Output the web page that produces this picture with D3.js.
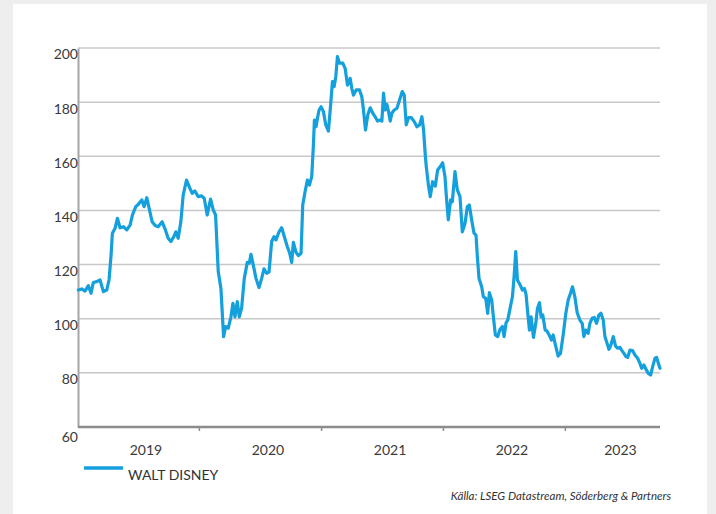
<!DOCTYPE html>
<html>
<head>
<meta charset="utf-8">
<script src="https://cdn.jsdelivr.net/npm/d3@7"></script>
<style>
  html, body { margin: 0; padding: 0; background: #eeeeee; }
  svg { display: block; }
</style>
</head>
<body>
<script>
// ---- data ----
const dates = [
 "2019-01-05","2019-01-15","2019-01-25","2019-02-04","2019-02-12","2019-02-19","2019-03-01","2019-03-11","2019-03-21","2019-03-31",
 "2019-04-07","2019-04-13","2019-04-17","2019-04-25","2019-05-02","2019-05-10","2019-05-20","2019-05-30","2019-06-09","2019-06-16",
 "2019-06-26","2019-07-04","2019-07-14","2019-07-21","2019-07-29","2019-08-05","2019-08-14","2019-08-23","2019-09-01","2019-09-13",
 "2019-09-21","2019-10-01","2019-10-09","2019-10-18","2019-10-24","2019-10-31","2019-11-08","2019-11-15","2019-11-25","2019-12-05",
 "2019-12-12","2019-12-20","2019-12-30",
 "2020-01-09","2020-01-17","2020-01-26","2020-02-05","2020-02-13","2020-02-20","2020-02-28","2020-03-07","2020-03-15","2020-03-21",
 "2020-03-29","2020-04-06","2020-04-12","2020-04-18","2020-04-25","2020-05-01","2020-05-08","2020-05-16","2020-05-25","2020-05-31",
 "2020-06-05","2020-06-12","2020-06-20","2020-06-29","2020-07-07","2020-07-14","2020-07-22","2020-07-29","2020-08-06","2020-08-13",
 "2020-08-19","2020-08-28","2020-09-05","2020-09-13","2020-09-22","2020-09-29","2020-10-05","2020-10-10","2020-10-18","2020-10-25",
 "2020-11-02","2020-11-07","2020-11-14","2020-11-21","2020-11-27","2020-12-04","2020-12-09","2020-12-12","2020-12-17","2020-12-21",
 "2020-12-26",
 "2021-01-01","2021-01-08","2021-01-15","2021-01-23","2021-01-30","2021-02-04","2021-02-09","2021-02-14","2021-02-19","2021-02-25",
 "2021-03-07","2021-03-14","2021-03-21","2021-03-29","2021-04-03","2021-04-08","2021-04-16","2021-04-26","2021-05-03","2021-05-08",
 "2021-05-14","2021-05-21","2021-05-28","2021-06-05","2021-06-12","2021-06-19","2021-06-27","2021-07-02","2021-07-07","2021-07-12",
 "2021-07-17","2021-07-22","2021-07-27","2021-08-01","2021-08-08","2021-08-16","2021-08-24","2021-09-01","2021-09-07","2021-09-13",
 "2021-09-20","2021-09-28","2021-10-07","2021-10-15","2021-10-23","2021-10-30","2021-11-04","2021-11-09","2021-11-12","2021-11-19",
 "2021-11-24","2021-12-01","2021-12-09","2021-12-16","2021-12-24","2021-12-31",
 "2022-01-07","2022-01-12","2022-01-17","2022-01-24","2022-01-29","2022-02-06","2022-02-13","2022-02-21","2022-02-28","2022-03-08",
 "2022-03-15","2022-03-21","2022-03-28","2022-04-04","2022-04-10","2022-04-14","2022-04-19","2022-04-27","2022-05-02","2022-05-09",
 "2022-05-15","2022-05-20","2022-05-27","2022-06-01","2022-06-07","2022-06-14","2022-06-21","2022-06-28","2022-07-03","2022-07-09",
 "2022-07-14","2022-07-21","2022-07-28","2022-08-02","2022-08-07","2022-08-12","2022-08-20","2022-08-27","2022-09-02","2022-09-07",
 "2022-09-12","2022-09-17","2022-09-22","2022-09-29","2022-10-06","2022-10-11","2022-10-17","2022-10-22","2022-10-27","2022-11-03",
 "2022-11-08","2022-11-15","2022-11-22","2022-11-27","2022-12-05","2022-12-12","2022-12-19","2022-12-27",
 "2023-01-04","2023-01-11","2023-01-18","2023-01-24","2023-01-31","2023-02-07","2023-02-15","2023-02-22","2023-02-27","2023-03-05",
 "2023-03-12","2023-03-17","2023-03-24","2023-03-30","2023-04-06","2023-04-13","2023-04-19","2023-04-26","2023-05-01","2023-05-06",
 "2023-05-13","2023-05-19","2023-05-26","2023-06-02","2023-06-08","2023-06-15","2023-06-20","2023-06-27","2023-07-03","2023-07-08",
 "2023-07-15","2023-07-23","2023-07-30","2023-08-07","2023-08-14","2023-08-19","2023-08-26","2023-09-01","2023-09-08","2023-09-15",
 "2023-09-21","2023-09-28","2023-10-03","2023-10-08","2023-10-13"
];
const disney = [
 110.6,111.0,110.2,112.2,109.4,113.4,113.7,114.3,110.0,110.6,
 114.3,123.5,131.6,133.4,137.1,133.6,134.0,132.8,134.6,138.3,
 141.4,142.3,143.9,141.4,144.7,140.8,135.8,134.4,134.0,135.8,
 133.4,129.7,128.5,130.3,132.1,129.7,135.8,145.7,151.2,148.2,
 146.3,147.2,145.1,
 145.4,144.5,138.3,144.2,140.2,138.3,117.4,111.2,93.4,97.1,
 96.5,100.7,105.7,100.7,106.3,100.7,103.9,114.9,120.8,120.5,
 123.8,119.8,114.9,111.5,114.9,118.4,116.8,117.2,128.5,130.3,
 129.1,132.1,133.6,130.3,126.6,124.2,120.8,128.2,124.5,123.3,
 124.2,142.0,146.9,151.2,149.4,152.5,164.2,173.4,170.9,174.0,
 177.1,
 178.3,176.5,171.6,169.3,179.6,187.6,185.7,189.4,196.8,194.4,
 194.4,192.5,186.3,188.8,185.1,182.6,184.5,184.5,182.0,177.1,
 169.7,175.3,177.9,175.9,174.6,173.0,173.4,173.0,183.3,177.1,
 179.2,176.5,173.0,175.9,177.1,177.7,180.8,183.9,182.6,171.6,
 174.3,174.3,172.8,170.9,171.6,174.6,169.7,160.5,156.2,148.8,
 145.1,150.6,149.0,154.9,156.2,157.6,
 152.5,143.9,136.5,143.9,143.2,154.3,147.6,145.1,132.1,135.2,
 141.4,142.0,136.5,131.6,130.9,122.9,114.9,111.8,108.1,107.5,
 102.0,109.6,106.9,100.7,94.0,93.4,96.1,97.1,93.4,98.5,
 99.5,103.8,108.1,115.5,124.8,114.3,112.5,110.6,111.2,108.8,
 102.0,95.8,100.7,93.1,98.3,103.8,105.9,100.7,101.4,95.8,
 95.5,94.0,92.1,94.0,89.7,86.2,87.2,94.0,
 102.0,106.9,109.4,111.8,108.1,102.2,99.5,98.3,93.4,95.8,
 94.6,98.3,100.2,100.5,98.3,101.4,102.0,99.5,93.4,91.5,
 88.7,90.3,93.4,89.9,89.1,89.4,88.4,87.2,86.0,85.7,
 88.4,88.2,86.6,85.4,83.5,81.7,82.9,81.3,79.8,79.2,
 82.3,85.4,85.7,83.5,81.7
];
const yTicks = [60, 80, 100, 120, 140, 160, 180, 200];
const yearLabels = ["2019", "2020", "2021", "2022", "2023"];
const seriesName = "WALT DISNEY";
const sourceText = "Källa: LSEG Datastream, Söderberg & Partners";

// ---- drawing ----
const W = 716, H = 514;
const parse = d3.timeParse("%Y-%m-%d");
const data = dates.map((d, i) => ({ date: parse(d), value: disney[i] }));

const xStart = parse("2019-01-01"), xEnd = parse("2023-10-13");
const x = d3.scaleTime().domain([xStart, xEnd]).range([77, 660]);
const y = d3.scaleLinear().domain([60, 200]).range([427, 48]);

const svg = d3.select("body").append("svg").attr("width", W).attr("height", H);
const font = "Lato, 'Open Sans', sans-serif";

svg.append("rect").attr("x", 0).attr("y", 0).attr("width", W).attr("height", H).attr("fill", "#eeeeee");
svg.append("rect").attr("x", 13).attr("y", 4).attr("width", 694).attr("height", H - 4).attr("fill", "#ffffff");

// gridlines
svg.append("g").selectAll("line").data(yTicks.filter(t => t > 60)).join("line")
  .attr("x1", 78).attr("x2", 660)
  .attr("y1", d => y(d)).attr("y2", d => y(d))
  .attr("stroke", "#c8c8c8").attr("stroke-width", 1.5);

// y axis
const yAxis = d3.axisLeft(y).tickValues(yTicks).tickSize(0).tickPadding(0);
const gy = svg.append("g").attr("transform", "translate(78,0)").call(yAxis);
gy.select(".domain").attr("stroke", "#a6a6a6").attr("stroke-width", 2);
gy.selectAll("text")
  .attr("font-family", font).attr("font-size", 14).attr("fill", "#3a3a3a")
  .attr("dy", d => d === 60 ? "1.0em" : "0.78em");

// x axis
const yearStarts = yearLabels.slice(1).map(yy => parse(yy + "-01-01"));
const xAxis = d3.axisBottom(x).tickValues(yearStarts).tickSize(4).tickFormat("");
const gx = svg.append("g").attr("transform", "translate(0,427)").call(xAxis);
gx.select(".domain").attr("stroke", "#8c8c8c").attr("stroke-width", 2.5).attr("d", "M78,0H660");
gx.selectAll(".tick line").attr("stroke", "#8c8c8c").attr("stroke-width", 1.5);

svg.append("g").selectAll("text").data(yearLabels).join("text")
  .attr("x", yy => {
    const a = Math.max(x(parse(yy + "-01-01")), x(xStart));
    const b = Math.min(x(parse((+yy + 1) + "-01-01")), x(xEnd));
    return (a + b) / 2 + 8;
  })
  .attr("y", 455)
  .attr("text-anchor", "middle")
  .attr("font-family", font).attr("font-size", 14).attr("fill", "#3a3a3a")
  .text(d => d);

// line
const line = d3.line().x(d => x(d.date)).y(d => y(d.value)).curve(d3.curveLinear);
svg.append("path").datum(data)
  .attr("d", line)
  .attr("fill", "none")
  .attr("stroke", "#14a0dc")
  .attr("stroke-width", 3.2)
  .attr("stroke-linejoin", "round")
  .attr("stroke-linecap", "round");

// legend
svg.append("line").attr("x1", 84).attr("x2", 123).attr("y1", 468).attr("y2", 468)
  .attr("stroke", "#14a0dc").attr("stroke-width", 3.5);
svg.append("text").attr("x", 128).attr("y", 480)
  .attr("font-family", font).attr("font-size", 14).attr("fill", "#333333")
  .text(seriesName);

// source
svg.append("text").attr("x", 671).attr("y", 500).attr("text-anchor", "end")
  .attr("font-family", font).attr("font-size", 11.5).attr("font-style", "italic").attr("fill", "#333333")
  .text(sourceText);
</script>
</body>
</html>
